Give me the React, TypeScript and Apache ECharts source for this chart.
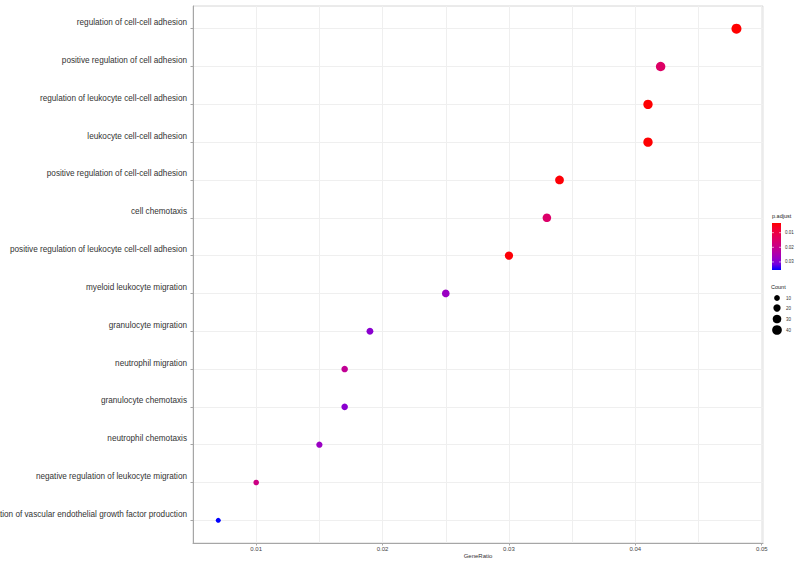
import React, { useEffect, useRef } from "react";
import * as echarts from "echarts";

// ---------- data ----------
const categories = [
  "regulation of cell-cell adhesion",
  "positive regulation of cell adhesion",
  "regulation of leukocyte cell-cell adhesion",
  "leukocyte cell-cell adhesion",
  "positive regulation of cell-cell adhesion",
  "cell chemotaxis",
  "positive regulation of leukocyte cell-cell adhesion",
  "myeloid leukocyte migration",
  "granulocyte migration",
  "neutrophil migration",
  "granulocyte chemotaxis",
  "neutrophil chemotaxis",
  "negative regulation of leukocyte migration",
  "regulation of vascular endothelial growth factor production",
];
const geneRatio = [0.048, 0.042, 0.041, 0.041, 0.034, 0.033, 0.030, 0.025, 0.019, 0.017, 0.017, 0.015, 0.010, 0.007];
const counts = [43, 38, 37, 37, 31, 30, 27, 23, 17, 15, 15, 13, 9, 6];
const pAdjust = [0.0034, 0.0145, 0.0036, 0.0036, 0.004, 0.015, 0.004, 0.0275, 0.0291, 0.0211, 0.0291, 0.0275, 0.0188, 0.0355];
const xTicks = [0.01, 0.02, 0.03, 0.04, 0.05];
const pTicks = [0.01, 0.02, 0.03];
const countBreaks = [10, 20, 30, 40];
const gradientColors = ["#ff0000", "#f40031", "#e8004f", "#da006c", "#c90088", "#b500a5", "#9a00c3", "#7300e0", "#0000ff"];

// ---------- layout ----------
const FONT = "Liberation Sans, Arial, sans-serif";
const pMin = Math.min(...pAdjust);
const pMax = Math.max(...pAdjust);
const sizeOf = (c: number) => Math.sqrt(12.8 + 2.03 * c);

const BAR_X = 772;
const BAR_Y = 223;
const BAR_W = 9;
const BAR_H = 47;
const COUNT_KEY_Y = [298, 308, 319, 330];

export default function App() {
  const ref = useRef<HTMLDivElement>(null);

  useEffect(() => {
    if (!ref.current) return;
    const chart = echarts.init(ref.current, undefined, { renderer: "svg" });

    const data = categories.map((_, i) => [geneRatio[i], i, counts[i], pAdjust[i]]);
    const rowValues = categories.map((_, i) => i);

    const graphics: any[] = [];
    graphics.push({
      type: "text",
      x: BAR_X,
      y: BAR_Y - 7,
      style: { text: "p.adjust", fontSize: 5.5, fontFamily: FONT, fill: "#222", verticalAlign: "middle" },
    });
    graphics.push({
      type: "rect",
      shape: { x: BAR_X, y: BAR_Y, width: BAR_W, height: BAR_H },
      style: {
        fill: new echarts.graphic.LinearGradient(
          0, 0, 0, 1,
          gradientColors.map((c, i) => ({ offset: i / (gradientColors.length - 1), color: c }))
        ),
      },
    });
    pTicks.forEach((p) => {
      const y = BAR_Y + ((p - pMin) / (pMax - pMin)) * BAR_H;
      graphics.push({ type: "line", shape: { x1: BAR_X, y1: y, x2: BAR_X + 2, y2: y }, style: { stroke: "#fff", lineWidth: 0.6 } });
      graphics.push({ type: "line", shape: { x1: BAR_X + BAR_W - 2, y1: y, x2: BAR_X + BAR_W, y2: y }, style: { stroke: "#fff", lineWidth: 0.6 } });
      graphics.push({
        type: "text",
        x: BAR_X + BAR_W + 4,
        y,
        style: { text: p.toFixed(2), fontSize: 4.5, fontFamily: FONT, fill: "#333", verticalAlign: "middle" },
      });
    });
    graphics.push({
      type: "text",
      x: BAR_X - 1,
      y: 287,
      style: { text: "Count", fontSize: 5.5, fontFamily: FONT, fill: "#222", verticalAlign: "middle" },
    });
    countBreaks.forEach((c, i) => {
      graphics.push({
        type: "circle",
        shape: { cx: BAR_X + 5, cy: COUNT_KEY_Y[i], r: sizeOf(c) / 2 },
        style: { fill: "#000" },
      });
      graphics.push({
        type: "text",
        x: BAR_X + 14,
        y: COUNT_KEY_Y[i],
        style: { text: String(c), fontSize: 4.5, fontFamily: FONT, fill: "#333", verticalAlign: "middle" },
      });
    });

    chart.setOption({
      animation: false,
      backgroundColor: "#fff",
      grid: {
        left: 193,
        right: 34,
        top: 6,
        bottom: 18,
        containLabel: false,
        outerBoundsMode: "none",
        show: true,
        borderColor: "#d6d6d6",
        borderWidth: 1,
      },
      xAxis: [
        {
          type: "value",
          min: 0.005,
          max: 0.0501,
          position: "bottom",
          name: "GeneRatio",
          nameLocation: "middle",
          nameGap: 10,
          nameMoveOverlap: false,
          nameTextStyle: { fontSize: 6, fontFamily: FONT, color: "#333" },
          axisLine: { show: true, onZero: false, lineStyle: { color: "#a6a6a6", width: 1 } },
          axisTick: { show: true, length: 2.5, customValues: xTicks, lineStyle: { color: "#a6a6a6" } },
          axisLabel: {
            customValues: xTicks,
            formatter: (v: number) => v.toFixed(2),
            fontSize: 6,
            fontFamily: FONT,
            color: "#444",
            margin: 3,
          },
          splitLine: { show: false },
        },
        {
          type: "value",
          min: 0.005,
          max: 0.0501,
          interval: 0.005,
          position: "bottom",
          axisLine: { show: false, onZero: false },
          axisTick: { show: false },
          axisLabel: { show: false },
          splitLine: { show: true, lineStyle: { color: "#efefef", width: 1 } },
        },
      ],
      yAxis: {
        type: "value",
        inverse: true,
        min: -0.6,
        max: 13.6,
        axisLine: { show: true, onZero: false, lineStyle: { color: "#a6a6a6", width: 1 } },
        axisTick: { show: true, length: 2.5, customValues: rowValues, lineStyle: { color: "#a6a6a6" } },
        axisLabel: {
          customValues: rowValues,
          formatter: (v: number) => categories[Math.round(v)] ?? "",
          fontSize: 8.2,
          fontFamily: FONT,
          color: "#333",
          margin: 6,
          verticalAlign: "bottom",
          lineHeight: 12,
        },
        splitLine: { show: true, lineStyle: { color: "#efefef", width: 1 } },
      },
      visualMap: {
        type: "continuous",
        show: false,
        dimension: 3,
        seriesIndex: 0,
        min: pMin,
        max: pMax,
        inRange: { color: gradientColors },
      },
      series: [
        {
          type: "scatter",
          xAxisIndex: 0,
          yAxisIndex: 0,
          data,
          symbol: "circle",
          symbolSize: (val: number[]) => sizeOf(val[2]),
          itemStyle: { opacity: 1 },
          z: 5,
        },
      ],
      graphic: graphics,
    });

    return () => chart.dispose();
  }, []);

  return (
    <div
      ref={ref}
      style={{ position: "absolute", left: 0, top: 0, width: 797, height: 561 }}
    />
  );
}
